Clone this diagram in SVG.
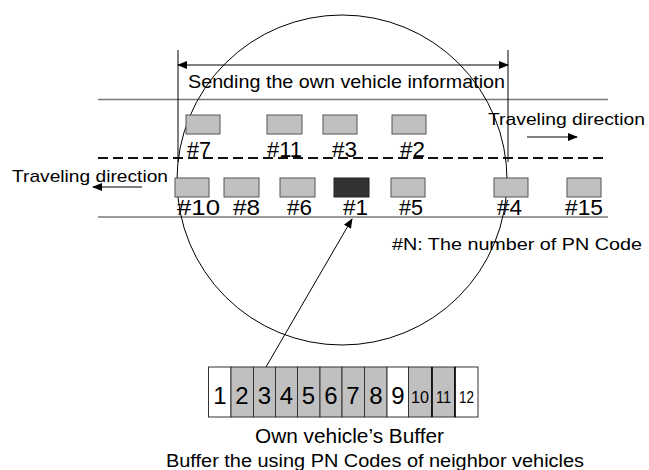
<svg xmlns="http://www.w3.org/2000/svg" width="649" height="470" viewBox="0 0 649 470">
  <style>
    text { font-family: "Liberation Sans", Arial, sans-serif; fill: #000; }
    .road { stroke: #7a7a7a; stroke-width: 1.5; fill: none; }
    .lane { stroke: #111; stroke-width: 2; stroke-dasharray: 10 5; fill: none; }
    .thin { stroke: #000; stroke-width: 1; fill: none; }
    .car { fill: #c0c0c0; stroke: #555; stroke-width: 1; }
    .own { fill: #333; stroke: #222; stroke-width: 1; }
    .lbl { font-size: 22px; }
    .cell { fill: #c0c0c0; stroke: #333; stroke-width: 1; }
    .cellw { fill: #fff; stroke: #333; stroke-width: 1; }
    .num { font-size: 24px; text-anchor: middle; }
    .num2 { font-size: 17px; text-anchor: middle; }
  </style>
  <defs>
    <marker id="ah" markerWidth="10" markerHeight="8" refX="9" refY="4" orient="auto-start-reverse" markerUnits="userSpaceOnUse">
      <path d="M0,0 L10,4 L0,8 Z" fill="#000"/>
    </marker>
  </defs>

  <rect width="649" height="470" fill="#fff"/>

  <!-- road edges and lane divider -->
  <line class="road" x1="98" y1="99.5" x2="608" y2="99.5"/>
  <line class="lane" x1="98" y1="158" x2="608" y2="158"/>
  <line class="road" x1="98" y1="217" x2="608" y2="217"/>

  <!-- communication range -->
  <circle class="thin" cx="342" cy="180" r="165"/>

  <!-- sending range dimension -->
  <g id="sending-range">
    <line class="thin" x1="178" y1="50" x2="178" y2="162"/>
    <line class="thin" x1="508" y1="50" x2="508" y2="162"/>
    <line class="thin" x1="178" y1="65" x2="508" y2="65" marker-start="url(#ah)" marker-end="url(#ah)"/>
    <text x="188" y="88" font-size="19" textLength="317" lengthAdjust="spacingAndGlyphs">Sending the own vehicle information</text>
  </g>

  <!-- travel directions -->
  <g id="dir-right">
    <text x="488" y="125" font-size="17" textLength="157" lengthAdjust="spacingAndGlyphs">Traveling direction</text>
    <line class="thin" x1="527" y1="137" x2="577" y2="137" marker-end="url(#ah)"/>
  </g>
  <g id="dir-left">
    <text x="12" y="182" font-size="17" textLength="156" lengthAdjust="spacingAndGlyphs">Traveling direction</text>
    <line class="thin" x1="142" y1="187" x2="93" y2="187" marker-end="url(#ah)"/>
  </g>

  <!-- upper lane vehicles -->
  <g id="car-7"><rect class="car" x="186" y="115" width="34" height="19"/><text class="lbl" x="187" y="157" textLength="24" lengthAdjust="spacingAndGlyphs">#7</text></g>
  <g id="car-11"><rect class="car" x="267" y="115" width="35" height="19"/><text class="lbl" x="267" y="157" textLength="35" lengthAdjust="spacingAndGlyphs">#11</text></g>
  <g id="car-3"><rect class="car" x="323" y="115" width="34" height="19"/><text class="lbl" x="332" y="157" textLength="25" lengthAdjust="spacingAndGlyphs">#3</text></g>
  <g id="car-2"><rect class="car" x="392" y="115" width="34" height="19"/><text class="lbl" x="400" y="157" textLength="25" lengthAdjust="spacingAndGlyphs">#2</text></g>

  <!-- lower lane vehicles -->
  <g id="car-10"><rect class="car" x="175" y="178" width="34" height="19"/><text class="lbl" x="177" y="215" textLength="43" lengthAdjust="spacingAndGlyphs">#10</text></g>
  <g id="car-8"><rect class="car" x="224" y="178" width="35" height="19"/><text class="lbl" x="233" y="215" textLength="27" lengthAdjust="spacingAndGlyphs">#8</text></g>
  <g id="car-6"><rect class="car" x="280" y="178" width="35" height="19"/><text class="lbl" x="287" y="215" textLength="25" lengthAdjust="spacingAndGlyphs">#6</text></g>
  <g id="car-1"><rect class="own" x="334" y="178" width="35" height="19"/><text class="lbl" x="343" y="215" textLength="25" lengthAdjust="spacingAndGlyphs">#1</text></g>
  <g id="car-5"><rect class="car" x="391" y="178" width="34" height="19"/><text class="lbl" x="399" y="215" textLength="24" lengthAdjust="spacingAndGlyphs">#5</text></g>
  <g id="car-4"><rect class="car" x="494" y="178" width="34" height="19"/><text class="lbl" x="497" y="215" textLength="25" lengthAdjust="spacingAndGlyphs">#4</text></g>
  <g id="car-15"><rect class="car" x="567" y="178" width="34" height="19"/><text class="lbl" x="565" y="215" textLength="38" lengthAdjust="spacingAndGlyphs">#15</text></g>

  <g id="legend">
    <text x="392" y="250" font-size="17" textLength="250" lengthAdjust="spacingAndGlyphs">#N: The number of PN Code</text>
  </g>

  <!-- own vehicle PN code buffer -->
  <g id="buffer">
    <rect class="cellw" x="208.5" y="367" width="22.5" height="50"/>
    <rect class="cell" x="231" y="367" width="22.5" height="50"/>
    <rect class="cell" x="253.5" y="367" width="22" height="50"/>
    <rect class="cell" x="275.5" y="367" width="22" height="50"/>
    <rect class="cell" x="297.5" y="367" width="22.5" height="50"/>
    <rect class="cell" x="320" y="367" width="22" height="50"/>
    <rect class="cell" x="342" y="367" width="22.5" height="50"/>
    <rect class="cell" x="364.5" y="367" width="22.5" height="50"/>
    <rect class="cellw" x="387" y="367" width="21.5" height="50"/>
    <rect class="cell" x="408.5" y="367" width="23.5" height="50"/>
    <rect class="cell" x="432" y="367" width="23" height="50"/>
    <rect class="cellw" x="455" y="367" width="23" height="50"/>
    <line x1="432" y1="367" x2="432" y2="417" stroke="#000" stroke-width="1.5"/>
    <line x1="455" y1="367" x2="455" y2="417" stroke="#000" stroke-width="1.5"/>
    <text class="num" x="220" y="404">1</text>
    <text class="num" x="242" y="404">2</text>
    <text class="num" x="264.5" y="404">3</text>
    <text class="num" x="286.5" y="404">4</text>
    <text class="num" x="308.5" y="404">5</text>
    <text class="num" x="331" y="404">6</text>
    <text class="num" x="353" y="404">7</text>
    <text class="num" x="376" y="404">8</text>
    <text class="num" x="398" y="404">9</text>
    <text class="num2" x="420" y="403" textLength="18" lengthAdjust="spacingAndGlyphs">10</text>
    <text class="num2" x="443.5" y="403" textLength="15" lengthAdjust="spacingAndGlyphs">11</text>
    <text class="num2" x="466.5" y="403" textLength="15" lengthAdjust="spacingAndGlyphs">12</text>
    <text x="255" y="443" font-size="20" textLength="189" lengthAdjust="spacingAndGlyphs">Own vehicle’s Buffer</text>
    <text x="166" y="467" font-size="18" textLength="418" lengthAdjust="spacingAndGlyphs">Buffer the using PN Codes of neighbor vehicles</text>
  </g>

  <!-- connectors -->
  <g id="connectors">
    <line class="thin" x1="266" y1="367" x2="352" y2="219" marker-end="url(#ah)"/>
  </g>
</svg>
